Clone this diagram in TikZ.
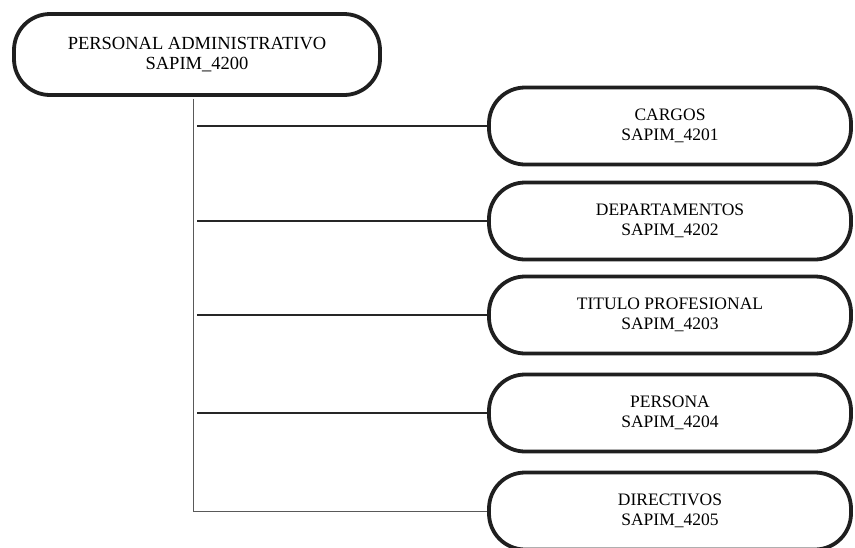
\documentclass[tikz,border=0pt]{standalone}
\usepackage{fontspec}
\setmainfont{Liberation Serif}
\begin{document}
\begin{tikzpicture}[x=1pt,y=1pt,
  box/.style={draw=black!88, line width=3.8pt, rounded corners=36pt, fill=white,
    align=center, inner sep=0pt, font=\fontsize{17.5}{20}\selectfont},
  topbox/.style={box, minimum width=366pt, minimum height=81pt, font=\fontsize{18.5}{20}\selectfont},
  childbox/.style={box, minimum width=362pt, minimum height=77pt},
  branch/.style={draw=black!85, line width=1.4pt},
  trunk/.style={draw=black!65, line width=0.9pt}]
\useasboundingbox (0,0) rectangle (855,-547);
\node[topbox] (top) at (197,-54.5) {PERSONAL ADMINISTRATIVO\\SAPIM\_4200};
\node[childbox] (d1) at (670,-126) {CARGOS\\SAPIM\_4201};
\node[childbox] (d2) at (670,-221) {DEPARTAMENTOS\\SAPIM\_4202};
\node[childbox] (d3) at (670,-315) {TITULO PROFESIONAL\\SAPIM\_4203};
\node[childbox] (d4) at (670,-413) {PERSONA\\SAPIM\_4204};
\node[childbox] (d5) at (670,-511) {DIRECTIVOS\\SAPIM\_4205};
\coordinate (t) at ([xshift=-4pt,yshift=-1.9pt]top.south);
\draw[trunk] (t) |- (d5.west);
\foreach \i in {1,2,3,4}{
  \draw[branch] (top.south |- d\i.west) -- (d\i.west);
}
\end{tikzpicture}
\end{document}
